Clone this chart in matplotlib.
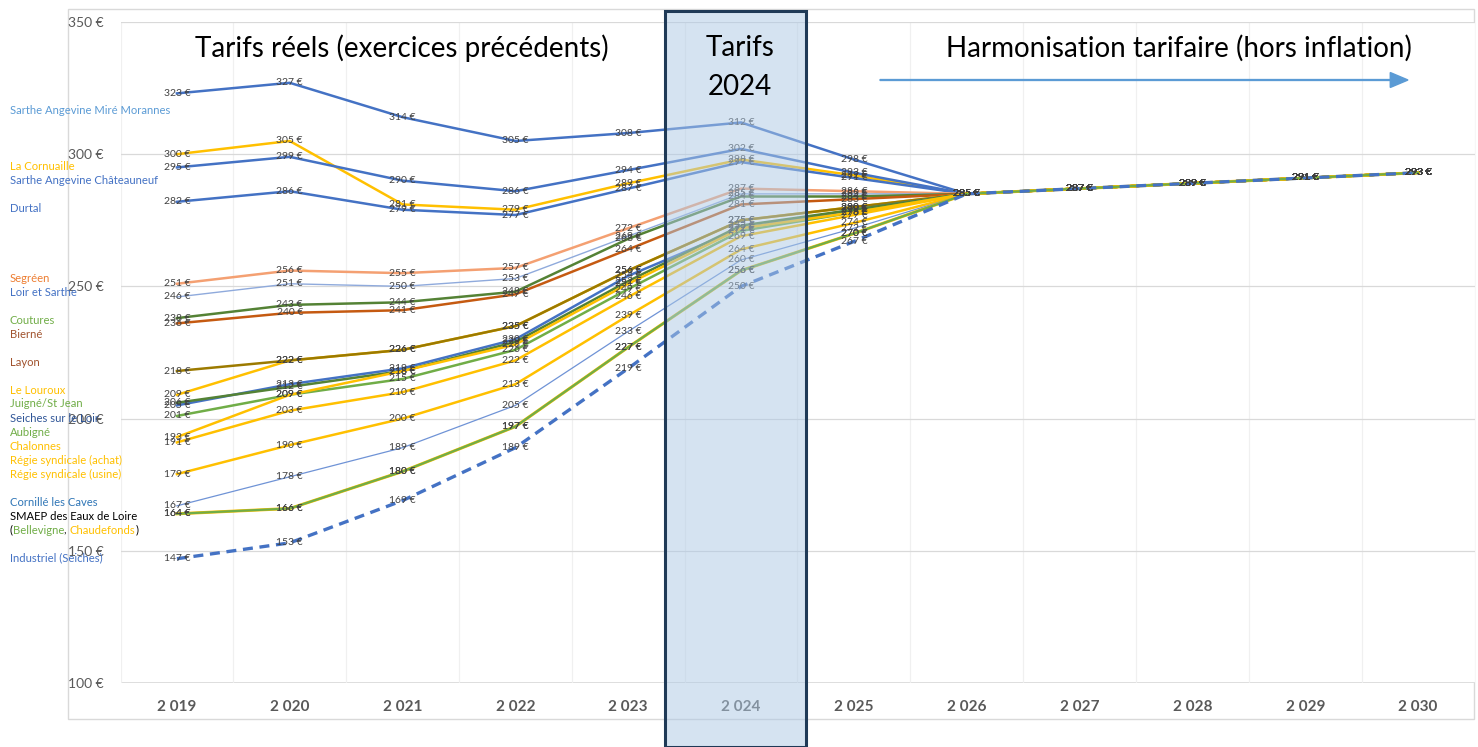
import matplotlib
matplotlib.use("Agg")
import matplotlib.pyplot as plt
from matplotlib.patches import Rectangle, FancyArrow

plt.rcParams["font.family"] = ["Lato", "DejaVu Sans"]

W, H = 1478, 747

YEARS = ["2 019", "2 020", "2 021", "2 022", "2 023", "2 024",
         "2 025", "2 026", "2 027", "2 028", "2 029", "2 030"]

# tarifs par service (€)
mire_morannes = [323, 327, 314, 305, 308, 312, 298, 285, 287, 289, 291, 293]
cornuaille = [300, 305, 281, 279, 289, 298, 292, 285, 287, 289, 291, 293]
chateauneuf = [295, 299, 290, 286, 294, 302, 293, 285, 287, 289, 291, 293]
durtal = [282, 286, 279, 277, 287, 297, 291, 285, 287, 289, 291, 293]
segreen = [251, 256, 255, 257, 272, 287, 286, 285, 287, 289, 291, 293]
loir_sarthe = [246, 251, 250, 253, 269, 285, 285, 285, 287, 289, 291, 293]
coutures = [238, 243, 244, 248, 268, 284, 284, 285, 287, 289, 291, 293]
bierne = [236, 240, 241, 247, 264, 281, 283, 285, 287, 289, 291, 293]
le_louroux = [209, 222, 226, 235, 256, 275, 280, 285, 287, 289, 291, 293]
layon = [218, 222, 226, 235, 256, 275, 280, 285, 287, 289, 291, 293]
juigne = [206, 212, 218, 229, 252, 273, 279, 285, 287, 289, 291, 293]
seiches = [205, 213, 219, 230, 254, 272, 279, 285, 287, 289, 291, 293]
aubigne = [201, 209, 215, 226, 249, 271, 278, 285, 287, 289, 291, 293]
chalonnes = [193, 209, 218, 228, 251, 272, 278, 285, 287, 289, 291, 293]
regie_achat = [191, 203, 210, 222, 246, 269, 277, 285, 287, 289, 291, 293]
regie_usine = [179, 190, 200, 213, 239, 264, 274, 285, 287, 289, 291, 293]
cornille = [167, 178, 189, 205, 233, 260, 272, 285, 287, 289, 291, 293]
chaudefonds = [164, 166, 180, 197, 227, 256, 270, 285, 287, 289, 291, 293]
bellevigne = [164, 166, 180, 197, 227, 256, 270, 285, 287, 289, 291, 293]
industriel = [147, 153, 169, 189, 219, 250, 267, 285, 287, 289, 291, 293]

BLUE = "#4472C4"
GOLD = "#FFC000"
series = [
    (mire_morannes, BLUE, 1.8, "-"),
    (cornuaille, GOLD, 1.8, "-"),
    (chateauneuf, BLUE, 1.8, "-"),
    (durtal, BLUE, 1.8, "-"),
    (segreen, "#F4A072", 1.8, "-"),
    (loir_sarthe, "#8FAADC", 1.0, "-"),
    (coutures, "#548235", 1.8, "-"),
    (bierne, "#C55A11", 1.8, "-"),
    (le_louroux, GOLD, 1.8, "-"),
    (layon, "#9C7A00", 1.8, "-"),
    (seiches, BLUE, 1.8, "-"),
    (juigne, "#548235", 1.8, "-"),
    (aubigne, "#70AD47", 1.8, "-"),
    (chalonnes, GOLD, 1.8, "-"),
    (regie_achat, GOLD, 1.8, "-"),
    (regie_usine, GOLD, 1.8, "-"),
    (cornille, "#6F93D6", 0.9, "-"),
    (chaudefonds, GOLD, 2.2, "-"),
    (bellevigne, "#70AD47", 1.6, "-"),
    (industriel, BLUE, 2.4, (0, (3, 2))),
]

# noms affichés à gauche (texte, couleur, y en pixels)
names = [
    ("Sarthe Angevine Miré Morannes", "#5B9BD5", 110),
    ("La Cornuaille", "#FFC000", 166),
    ("Sarthe Angevine Châteauneuf", "#4472C4", 180),
    ("Durtal", "#4472C4", 208),
    ("Segréen", "#ED7D31", 278),
    ("Loir et Sarthe", "#4472C4", 292),
    ("Coutures", "#70AD47", 320),
    ("Bierné", "#A0522D", 334),
    ("Layon", "#A0522D", 362),
    ("Le Louroux", "#FFC000", 390),
    ("Juigné/St Jean", "#70AD47", 404),
    ("Seiches sur le Loir", "#2F5597", 418),
    ("Aubigné", "#70AD47", 432),
    ("Chalonnes", "#FFC000", 446),
    ("Régie syndicale (achat)", "#FFC000", 460),
    ("Régie syndicale (usine)", "#FFC000", 474),
    ("Cornillé les Caves", "#2E75B6", 502),
    ("SMAEP des Eaux de Loire", "#000000", 516),
    ("Industriel (Seiches)", "#4472C4", 558),
]
smaep_parts = [("(", "#000000"), ("Bellevigne", "#70AD47"), (", ", "#000000"),
               ("Chaudefonds", "#FFC000"), (")", "#000000")]


def fx(px):
    return px / W


def fy(py):
    return 1 - py / H


fig = plt.figure(figsize=(W / 100, H / 100), dpi=100)
ax = fig.add_axes([fx(120.5), fy(683), fx(1474.5) - fx(120.5), fy(22) - fy(683)])

x = list(range(len(YEARS)))
for vals, color, lw, ls in series:
    ax.plot(x, vals, color=color, lw=lw, linestyle=ls, zorder=2)
    for xi, v in zip(x, vals):
        ax.text(xi, v, f"{v} €", ha="center", va="center", fontsize=7.5,
                color="#404040", zorder=3)

ax.set_xlim(-0.5, len(YEARS) - 0.5)
ax.set_ylim(100, 350)
ax.set_yticks([100, 150, 200, 250, 300, 350])
ax.set_yticklabels([f"{v} €" for v in [100, 150, 200, 250, 300, 350]],
                   fontsize=10, color="#595959")
ax.set_xticks(x)
ax.set_xticklabels(YEARS, fontsize=11, fontweight="bold", color="#595959")
ax.set_xticks([i - 0.5 for i in range(len(YEARS) + 1)] + x, minor=True)
ax.tick_params(which="both", length=0, pad=12)
ax.tick_params(axis="y", pad=12)
ax.grid(axis="y", color="#D9D9D9", lw=0.9, zorder=0)
ax.grid(axis="x", which="minor", color="#F0F0F0", lw=0.9, zorder=0)
for s in ax.spines.values():
    s.set_visible(False)
ax.axhline(100, color="#D9D9D9", lw=1.2, zorder=1)

# cadre extérieur
fig.add_artist(Rectangle((fx(68), fy(719)), fx(1474) - fx(68), fy(9) - fy(719),
                         transform=fig.transFigure, fill=False,
                         edgecolor="#D9D9D9", lw=1, zorder=0))

# bandeau 2024
fig.add_artist(Rectangle((fx(665), fy(747)), fx(806) - fx(665), fy(11) - fy(747),
                         transform=fig.transFigure, facecolor="#ADC9E5",
                         alpha=0.5, edgecolor="none", zorder=4))
fig.add_artist(Rectangle((fx(665), fy(747)), fx(806) - fx(665), fy(11) - fy(747),
                         transform=fig.transFigure, fill=False,
                         edgecolor="#1F3A57", lw=2.2, zorder=5))

fig.text(fx(402), fy(48), "Tarifs réels (exercices précédents)", ha="center",
         va="center", fontsize=20, color="black", zorder=6)
fig.text(fx(740), fy(48), "Tarifs", ha="center", va="center", fontsize=20, zorder=6)
fig.text(fx(740), fy(87), "2024", ha="center", va="center", fontsize=20, zorder=6)
fig.text(fx(1179), fy(48), "Harmonisation tarifaire (hors inflation)", ha="center",
         va="center", fontsize=20, color="black", zorder=6)

fig.add_artist(FancyArrow(fx(880), fy(80), fx(1408) - fx(880), 0,
                          transform=fig.transFigure, width=0.0012,
                          head_width=0.02, head_length=0.012,
                          length_includes_head=True, color="#5B9BD5", zorder=6))

for text, color, y in names:
    fig.text(fx(10), fy(y), text, ha="left", va="center", fontsize=8.1,
             color=color, zorder=6)

renderer = fig.canvas.get_renderer()
xpos = fx(10)
for part, color in smaep_parts:
    t = fig.text(xpos, fy(530), part, ha="left", va="center", fontsize=8.1,
                 color=color, zorder=6)
    bb = t.get_window_extent(renderer)
    xpos = bb.x1 / W

fig.savefig("out.png", dpi=100)
